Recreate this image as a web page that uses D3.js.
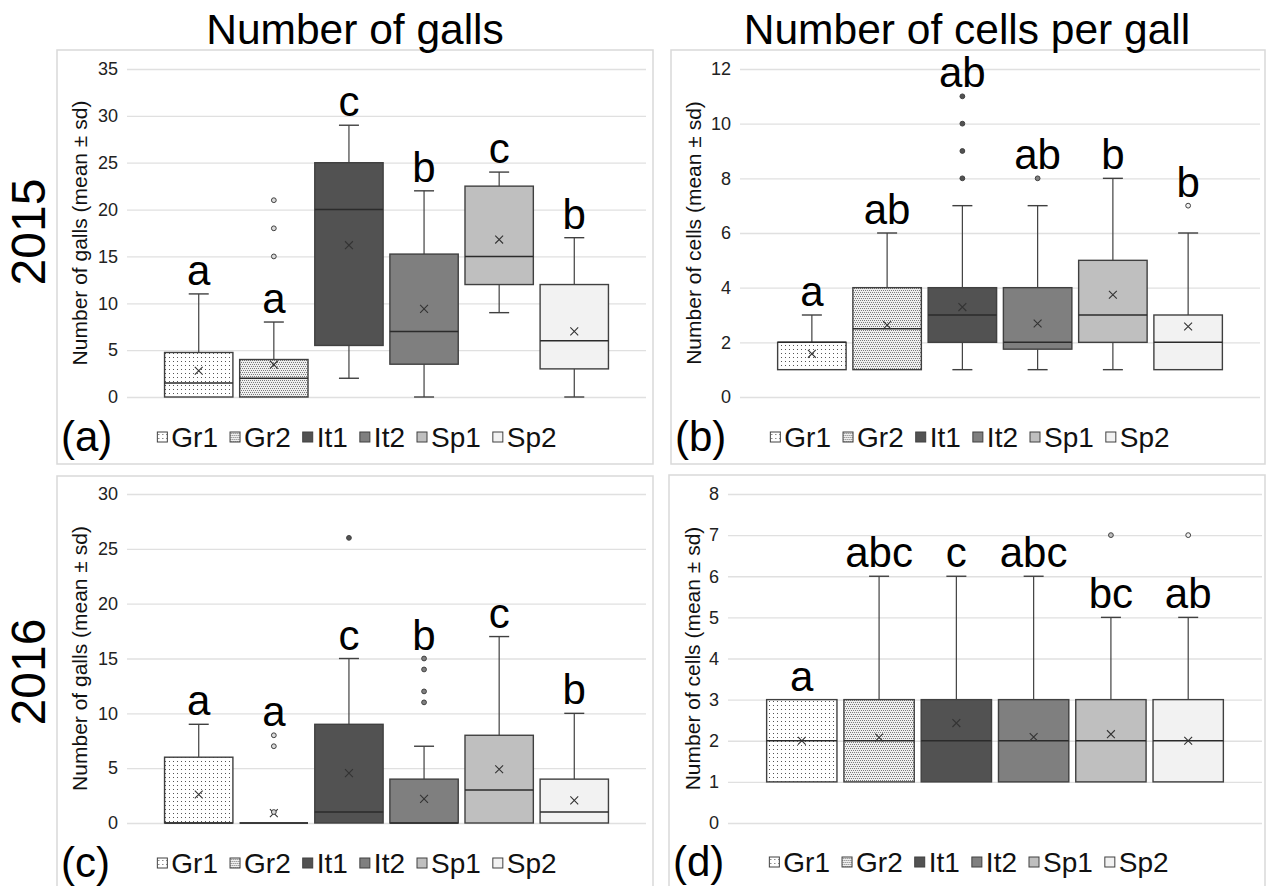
<!DOCTYPE html>
<html>
<head>
<meta charset="utf-8">
<script src="https://cdn.jsdelivr.net/npm/d3@7"></script>
<style>
  body { margin: 0; background: #fff; }
  svg { display: block; font-family: Arial, "Liberation Sans", sans-serif; }
</style>
</head>
<body>
<svg id="chart" width="1271" height="886"></svg>
<script>
// Site groups (one box per group in every panel)
const groups = ['Gr1', 'Gr2', 'It1', 'It2', 'Sp1', 'Sp2'];

// Box summaries: [lower whisker, q1, median, q3, upper whisker]
const galls2015Box = [[0, 0, 1.5, 4.75, 11], [0, 0, 2, 4, 8], [2, 5.5, 20, 25, 29], [0, 3.5, 7, 15.25, 22], [9, 12, 15, 22.5, 24], [0, 3, 6, 12, 17]];
const galls2015Mean = [2.8, 3.45, 16.2, 9.4, 16.8, 7];
const galls2015Outliers = [[], [15, 18, 21], [], [], [], []];
const galls2015Letters = ['a', 'a', 'c', 'b', 'c', 'b'];
const galls2015LetterAt = [11, 8, 29, 22, 24, 17];
const galls2015Ticks = [0, 5, 10, 15, 20, 25, 30, 35];

const cells2015Box = [[1, 1, 2, 2, 3], [1, 1, 2.5, 4, 6], [1, 2, 3, 4, 7], [1, 1.75, 2, 4, 7], [1, 2, 3, 5, 8], [1, 1, 2, 3, 6]];
const cells2015Mean = [1.58, 2.63, 3.29, 2.69, 3.74, 2.58];
const cells2015Outliers = [[], [], [8, 9, 10, 11], [8], [], [7]];
const cells2015Letters = ['a', 'ab', 'ab', 'ab', 'b', 'b'];
const cells2015LetterAt = [3, 6, 11, 8, 8, 7];
const cells2015Ticks = [0, 2, 4, 6, 8, 10, 12];

const galls2016Box = [[0, 0, 0, 6, 9], [0, 0, 0, 0, 0], [0, 0, 1, 9, 15], [0, 0, 0, 4, 7], [0, 0, 3, 8, 17], [0, 0, 1, 4, 10]];
const galls2016Mean = [2.6, 0.9, 4.55, 2.2, 4.9, 2.06];
const galls2016Outliers = [[], [1, 7, 8], [26], [11, 12, 14, 15], [], []];
const galls2016Letters = ['a', 'a', 'c', 'b', 'c', 'b'];
const galls2016LetterAt = [9, 8, 15, 15, 17, 10];
const galls2016Ticks = [0, 5, 10, 15, 20, 25, 30];

const cells2016Box = [[1, 1, 2, 3, 3], [1, 1, 2, 3, 6], [1, 1, 2, 3, 6], [1, 1, 2, 3, 6], [1, 1, 2, 3, 5], [1, 1, 2, 3, 5]];
const cells2016Mean = [2.0, 2.08, 2.43, 2.09, 2.16, 2.0];
const cells2016Outliers = [[], [], [], [], [7], [7]];
const cells2016Letters = ['a', 'abc', 'c', 'abc', 'bc', 'ab'];
const cells2016LetterAt = [3, 6, 6, 6, 5, 5];
const cells2016Ticks = [0, 1, 2, 3, 4, 5, 6, 7, 8];

const columnTitles = ['Number of galls', 'Number of cells per gall'];
const yearLabels = ['2015', '2016'];

const fills = ['url(#dotsSparse)', 'url(#dotsDense)', '#525252', '#7f7f7f', '#bfbfbf', '#f2f2f2'];
const outlierFills = ['#ffffff', '#d9d9d9', '#525252', '#7f7f7f', '#bfbfbf', '#f2f2f2'];

const svg = d3.select('#chart');

// dot patterns for the Gr boxes
const defs = svg.append('defs');
const sparse = defs.append('pattern').attr('id', 'dotsSparse')
  .attr('patternUnits', 'userSpaceOnUse').attr('width', 4).attr('height', 4);
sparse.append('rect').attr('width', 4).attr('height', 4).attr('fill', '#fff');
sparse.append('rect').attr('x', 1).attr('y', 1).attr('width', 1).attr('height', 1).attr('fill', '#555');
const dense = defs.append('pattern').attr('id', 'dotsDense')
  .attr('patternUnits', 'userSpaceOnUse').attr('width', 4).attr('height', 4);
dense.append('rect').attr('width', 4).attr('height', 4).attr('fill', '#efefef');
[[0, 0], [2, 0], [1, 2], [3, 2]].forEach(([dx, dy]) => {
  dense.append('rect').attr('x', dx).attr('y', dy).attr('width', 1).attr('height', 1).attr('fill', '#7a7a7a');
});

const panels = [
  { tag: '(a)', box: galls2015Box, mean: galls2015Mean, out: galls2015Outliers, letters: galls2015Letters, letterAt: galls2015LetterAt, ticks: galls2015Ticks,
    yTitle: 'Number of galls (mean ± sd)', titleX: 87, frame: [57, 50, 653, 464], plot: [127, 69, 646, 397] },
  { tag: '(b)', box: cells2015Box, mean: cells2015Mean, out: cells2015Outliers, letters: cells2015Letters, letterAt: cells2015LetterAt, ticks: cells2015Ticks,
    yTitle: 'Number of cells (mean ± sd)', titleX: 701, frame: [671, 50, 1265, 464], plot: [740, 69, 1260, 397] },
  { tag: '(c)', box: galls2016Box, mean: galls2016Mean, out: galls2016Outliers, letters: galls2016Letters, letterAt: galls2016LetterAt, ticks: galls2016Ticks,
    yTitle: 'Number of galls (mean ± sd)', titleX: 87, frame: [57, 476, 653, 890], plot: [127, 494, 646, 823] },
  { tag: '(d)', box: cells2016Box, mean: cells2016Mean, out: cells2016Outliers, letters: cells2016Letters, letterAt: cells2016LetterAt, ticks: cells2016Ticks,
    yTitle: 'Number of cells (mean ± sd)', titleX: 700, frame: [669, 475, 1265, 890], plot: [728, 494, 1262, 823] }
];

const boxStroke = '#404040';

panels.forEach((p) => {
  const [fx0, fy0, fx1, fy1] = p.frame;
  const [left, top, right, bottom] = p.plot;

  svg.append('rect')
    .attr('x', fx0).attr('y', fy0)
    .attr('width', fx1 - fx0).attr('height', fy1 - fy0)
    .attr('fill', '#fff').attr('stroke', '#d9d9d9').attr('stroke-width', 1.5);

  const y = d3.scaleLinear().domain([0, d3.max(p.ticks)]).range([bottom, top]);
  const x = d3.scaleBand().domain(groups).range([left, right]).paddingInner(0.09).paddingOuter(0.5);

  // grid + tick labels
  svg.append('g')
    .attr('transform', `translate(${left},0)`)
    .call(d3.axisLeft(y).tickValues(p.ticks).tickSize(-(right - left)).tickPadding(9))
    .call((g) => g.select('.domain').remove())
    .call((g) => g.selectAll('.tick line').attr('stroke', '#e0e0e0').attr('stroke-width', 1.3))
    .call((g) => g.selectAll('.tick text').attr('fill', '#222').attr('font-size', 18).attr('font-family', 'Arial, "Liberation Sans", sans-serif'));

  // y-axis title
  svg.append('text')
    .attr('transform', `translate(${p.titleX},${(top + bottom) / 2}) rotate(-90)`)
    .attr('text-anchor', 'middle')
    .attr('font-size', 21)
    .attr('fill', '#111')
    .text(p.yTitle);

  const bw = x.bandwidth();
  const g = svg.append('g');

  groups.forEach((name, i) => {
    const [lo, q1, med, q3, hi] = p.box[i];
    const cx = x(name) + bw / 2;

    // whiskers
    if (hi > q3) {
      g.append('line').attr('x1', cx).attr('x2', cx).attr('y1', y(q3)).attr('y2', y(hi)).attr('stroke', boxStroke).attr('stroke-width', 1.2);
      g.append('line').attr('x1', cx - 10).attr('x2', cx + 10).attr('y1', y(hi)).attr('y2', y(hi)).attr('stroke', boxStroke).attr('stroke-width', 1.4);
    }
    if (lo < q1) {
      g.append('line').attr('x1', cx).attr('x2', cx).attr('y1', y(q1)).attr('y2', y(lo)).attr('stroke', boxStroke).attr('stroke-width', 1.2);
      g.append('line').attr('x1', cx - 10).attr('x2', cx + 10).attr('y1', y(lo)).attr('y2', y(lo)).attr('stroke', boxStroke).attr('stroke-width', 1.4);
    }

    // box
    if (q3 > q1) {
      g.append('rect')
        .attr('x', x(name)).attr('y', y(q3))
        .attr('width', bw).attr('height', y(q1) - y(q3))
        .attr('fill', fills[i]).attr('stroke', boxStroke).attr('stroke-width', 1.4);
    } else {
      g.append('line').attr('x1', x(name)).attr('x2', x(name) + bw)
        .attr('y1', y(q1)).attr('y2', y(q1)).attr('stroke', boxStroke).attr('stroke-width', 1.6);
    }

    // median
    g.append('line').attr('x1', x(name)).attr('x2', x(name) + bw)
      .attr('y1', y(med)).attr('y2', y(med)).attr('stroke', '#2b2b2b').attr('stroke-width', 1.5);

    // mean marker
    g.append('path')
      .attr('d', d3.symbol(d3.symbolTimes, 42)())
      .attr('transform', `translate(${cx},${y(p.mean[i])})`)
      .attr('fill', 'none').attr('stroke', '#333').attr('stroke-width', 1.1);

    // outliers
    p.out[i].forEach((v) => {
      g.append('circle').attr('cx', cx).attr('cy', y(v)).attr('r', 2.4)
        .attr('fill', outlierFills[i]).attr('stroke', boxStroke).attr('stroke-width', 1);
    });

    // significance letters
    g.append('text')
      .attr('x', cx).attr('y', y(p.letterAt[i]) - 9)
      .attr('text-anchor', 'middle')
      .attr('font-size', 42)
      .attr('fill', '#000')
      .text(p.letters[i]);
  });

  // panel tag
  svg.append('text')
    .attr('x', fx0 + 4).attr('y', fy0 + 401)
    .attr('font-size', 42)
    .attr('fill', '#000')
    .text(p.tag);

  // legend, centred in the panel frame
  const leg = svg.append('g');
  let lx = 0;
  groups.forEach((name, i) => {
    leg.append('rect')
      .attr('x', lx).attr('y', -5).attr('width', 10).attr('height', 10)
      .attr('fill', fills[i]).attr('stroke', boxStroke).attr('stroke-width', 1);
    const t = leg.append('text')
      .attr('x', lx + 14).attr('y', 0)
      .attr('dominant-baseline', 'central')
      .attr('font-size', 28)
      .attr('fill', '#111')
      .text(name);
    lx += 14 + t.node().getComputedTextLength() + 12;
  });
  const legW = lx - 12;
  leg.attr('transform', `translate(${(fx0 + fx1) / 2 - legW / 2 + 2},${fy0 + 387})`);
});

// column titles
[355, 967].forEach((cx, i) => {
  svg.append('text')
    .attr('x', cx).attr('y', 44)
    .attr('text-anchor', 'middle')
    .attr('font-size', 42.5)
    .attr('fill', '#000')
    .text(columnTitles[i]);
});

// row (year) labels
[232, 672].forEach((cy, i) => {
  svg.append('text')
    .attr('transform', `translate(45,${cy}) rotate(-90)`)
    .attr('text-anchor', 'middle')
    .attr('font-size', 48)
    .attr('fill', '#000')
    .text(yearLabels[i]);
});
</script>
</body>
</html>
